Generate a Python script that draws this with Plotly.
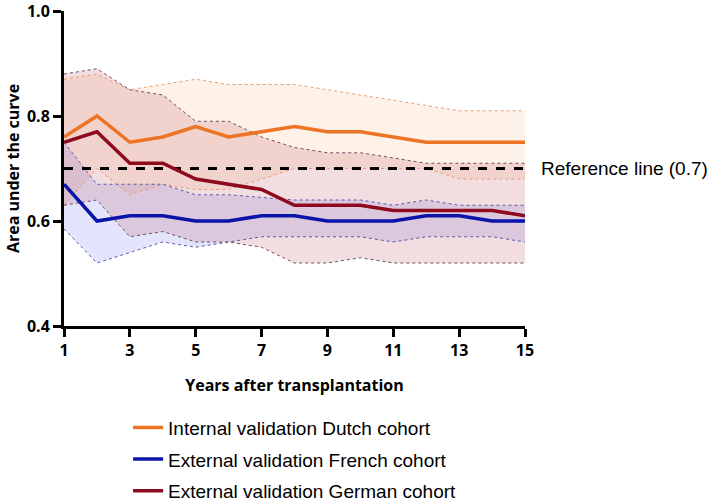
import plotly.graph_objects as go

years = list(range(1, 16))

dutch_auc = [0.76, 0.80, 0.75, 0.76, 0.78, 0.76, 0.77, 0.78, 0.77, 0.77, 0.76, 0.75, 0.75, 0.75, 0.75]
dutch_upper = [0.87, 0.88, 0.85, 0.86, 0.87, 0.86, 0.86, 0.86, 0.85, 0.84, 0.83, 0.82, 0.81, 0.81, 0.81]
dutch_lower = [0.63, 0.70, 0.65, 0.67, 0.66, 0.66, 0.68, 0.70, 0.70, 0.70, 0.70, 0.70, 0.68, 0.68, 0.68]

french_auc = [0.67, 0.60, 0.61, 0.61, 0.60, 0.60, 0.61, 0.61, 0.60, 0.60, 0.60, 0.61, 0.61, 0.60, 0.60]
french_upper = [0.75, 0.67, 0.67, 0.67, 0.65, 0.65, 0.645, 0.64, 0.64, 0.64, 0.63, 0.64, 0.63, 0.63, 0.63]
french_lower = [0.585, 0.52, 0.54, 0.56, 0.55, 0.56, 0.57, 0.57, 0.57, 0.57, 0.56, 0.57, 0.57, 0.57, 0.56]

german_auc = [0.75, 0.77, 0.71, 0.71, 0.68, 0.67, 0.66, 0.63, 0.63, 0.63, 0.62, 0.62, 0.62, 0.62, 0.61]
german_upper = [0.88, 0.89, 0.85, 0.84, 0.79, 0.79, 0.76, 0.74, 0.73, 0.73, 0.72, 0.71, 0.71, 0.71, 0.71]
german_lower = [0.63, 0.64, 0.57, 0.58, 0.56, 0.56, 0.55, 0.52, 0.52, 0.53, 0.52, 0.52, 0.52, 0.52, 0.52]

reference_value = 0.7

series = [
    ("Internal validation Dutch cohort", dutch_auc, dutch_upper, dutch_lower,
     "#EC7424", "rgba(250,200,160,0.25)", "#E8A070"),
    ("External validation French cohort", french_auc, french_upper, french_lower,
     "#0A14A8", "rgba(120,120,240,0.2)", "#5A5AA8"),
    ("External validation German cohort", german_auc, german_upper, german_lower,
     "#8E0A1E", "rgba(190,90,100,0.2)", "#6E5060"),
]

fig = go.Figure()

# bands
for name, auc, up, lo, lc, fc, dc in series:
    fig.add_trace(go.Scatter(
        x=years + years[::-1], y=up + lo[::-1], fill="toself", fillcolor=fc,
        line=dict(width=0), mode="lines", showlegend=False, hoverinfo="skip"))
for name, auc, up, lo, lc, fc, dc in series:
    for b in (up, lo):
        fig.add_trace(go.Scatter(
            x=years, y=b, mode="lines", line=dict(color=dc, width=1, dash="dot"),
            showlegend=False, hoverinfo="skip"))

# reference line
fig.add_trace(go.Scatter(
    x=[years[0], years[-1]], y=[reference_value, reference_value], mode="lines",
    line=dict(color="black", width=3, dash="dash"), showlegend=False))

# main lines (legend order: Dutch, French, German)
for i, (name, auc, up, lo, lc, fc, dc) in enumerate(series):
    fig.add_trace(go.Scatter(
        x=years, y=auc, mode="lines", name=name, line=dict(color=lc, width=3.5),
        legendgroup=str(i)))

fig.add_annotation(
    x=1.03, xref="paper", y=reference_value, yref="y", text="Reference line (0.7)",
    showarrow=False, xanchor="left", yanchor="middle",
    font=dict(family="Liberation Sans, Arial", size=19, color="black"))

tickfont = dict(family="Open Sans", size=16, color="black", weight="bold")
titlefont = dict(family="Open Sans", size=16, color="black", weight="bold")
fig.update_xaxes(
    range=[1, 15], tickvals=list(range(1, 16, 2)), ticks="outside", ticklen=8,
    tickwidth=3, tickcolor="black", showline=True, linewidth=3, linecolor="black",
    showgrid=False, zeroline=False, tickfont=tickfont, ticklabeloverflow="allow",
    title=dict(text="Years after transplantation", font=titlefont, standoff=20))
fig.update_yaxes(
    range=[0.4, 1.0], tickvals=[0.4, 0.6, 0.8, 1.0], tickformat=".1f", ticks="outside",
    ticklen=8, tickwidth=3, tickcolor="black", showline=True, linewidth=3,
    linecolor="black", showgrid=False, zeroline=False, tickfont=tickfont,
    ticklabeloverflow="allow",
    title=dict(text="Area under the curve", font=titlefont, standoff=4))

fig.update_layout(
    width=712, height=503,
    margin=dict(l=64, r=187, t=11, b=177, autoexpand=False),
    plot_bgcolor="white", paper_bgcolor="white",
    legend=dict(x=0.139, y=-0.262, xanchor="left", yanchor="top",
                font=dict(family="Liberation Sans, Arial", size=19, color="black"),
                tracegroupgap=4, bgcolor="rgba(0,0,0,0)", itemwidth=30),
)

fig.write_html("out.html")
